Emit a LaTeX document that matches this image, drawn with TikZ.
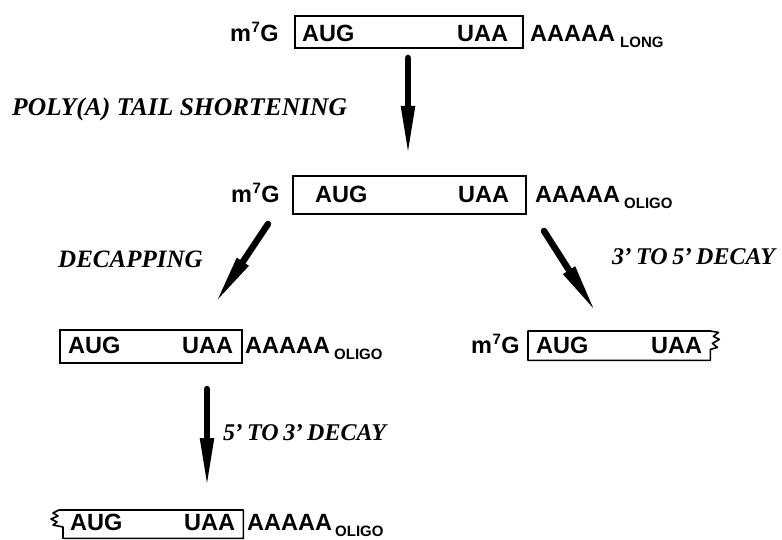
\documentclass[tikz,border=0pt]{standalone}
\usepackage{fontspec}
\setmainfont{Liberation Serif}
\setsansfont{Liberation Sans}
\usetikzlibrary{arrows.meta}

% fonts for sequences, poly(A) tail subscripts and step labels
\newcommand\seqfont{\sffamily\bfseries\fontsize{23.5}{23.5}\selectfont}
\newcommand\tailfont{\sffamily\bfseries\fontsize{15}{15}\selectfont}
\newcommand\stepfont{\rmfamily\bfseries\itshape\fontsize{25.5}{25.5}\selectfont}
\newcommand\decayfont{\rmfamily\bfseries\itshape\fontsize{24}{24}\selectfont}
\newcommand\capmark{m\kern0.5pt\raisebox{9pt}{\fontsize{15}{15}\selectfont 7}\kern0.5pt G}
% slightly tightened prime used in the decay labels
\newcommand\pr{\kern-0.5pt'}

\tikzset{
  txt/.style={inner sep=0pt, anchor=base west, font=\seqfont},
  tail/.style={inner sep=0pt, anchor=base west, font=\tailfont},
  steplabel/.style={inner sep=0pt, anchor=base west, font=\stepfont},
  decaylabel/.style={inner sep=0pt, anchor=base west, font=\decayfont},
  orf/.style={draw, line width=1.6pt, inner sep=0pt, anchor=north west},
  orfhidden/.style={inner sep=0pt, anchor=north west},
  edge/.style={line width=1.6pt, line join=round},
  flow/.style={line width=6.5pt, line cap=round, -{Triangle[length=52pt,width=12.5pt]}}
}

\begin{document}
\begin{tikzpicture}[x=1pt, y=-1pt]
\useasboundingbox (0,0) rectangle (782,540);

% ---- full-length mRNA with long poly(A) tail
\node[orf, minimum width=228pt, minimum height=32pt] (b1) at (294,15) {};
\node[txt] (cap1) at (230,42) {\capmark};
\node[txt] (aug1) at (302,42) {AUG};
\node[txt] (uaa1) at (457,42) {UAA};
\node[txt] (pa1) at (530,42) {AAAAA};
\node[tail] (sub1) at (620,48) {LONG};

% ---- mRNA with oligo(A) tail
\node[orf, minimum width=233pt, minimum height=38pt] (b2) at (292,175) {};
\node[txt] (cap2) at (231,203) {\capmark};
\node[txt] (aug2) at (315,203) {AUG};
\node[txt] (uaa2) at (458,203) {UAA};
\node[txt] (pa2) at (535,203) {AAAAA};
\node[tail] (sub2) at (624,209) {OLIGO};

% ---- decapped mRNA
\node[orf, minimum width=182pt, minimum height=33pt] (b3) at (59,329) {};
\node[txt] (aug3) at (68,353) {AUG};
\node[txt] (uaa3) at (182,353) {UAA};
\node[txt] (pa3) at (245,353) {AAAAA};
\node[tail] (sub3) at (334,359) {OLIGO};

% ---- 3' to 5' degradation intermediate
\node[orfhidden, minimum width=182pt, minimum height=29pt] (b4) at (528,331) {};
\draw[edge] (b4.south east) -- ++(0,-11) -- ++(7,-2) -- ++(-5,-4) -- ++(7,-4)
  -- ++(-6,-3) -- ++(5,-4) -- (b4.north east) -- (b4.north west)
  -- (b4.south west) -- cycle;
\node[txt] (cap4) at (471,353) {\capmark};
\node[txt] (aug4) at (536,353) {AUG};
\node[txt] (uaa4) at (651,353) {UAA};

% ---- 5' to 3' degradation intermediate
\node[orfhidden, minimum width=180pt, minimum height=28pt] (b5) at (63,510) {};
\draw[edge] (b5.north west) -- ++(-4,0) -- ++(-6,3) -- ++(5,3) -- ++(-7,3)
  -- ++(6,3) -- ++(-4,3) -- ++(10,2) -- (b5.south west) -- (b5.south east)
  -- (b5.north east) -- cycle;
\node[txt] (aug5) at (70,530) {AUG};
\node[txt] (uaa5) at (184,530) {UAA};
\node[txt] (pa5) at (247,530) {AAAAA};
\node[tail] (sub5) at (335,536) {OLIGO};

% ---- step labels
\node[steplabel] (l1) at (12,116) {POLY(A) TAIL SHORTENING};
\node[steplabel, font=\rmfamily\bfseries\itshape\fontsize{25}{25}\selectfont]
  (l2) at (58,268) {DECAPPING};
\node[decaylabel] (l3) at (612,265) {\spaceskip=4.5pt 3\pr{} TO 5\pr{} DECAY};
\node[decaylabel] (l4) at (223,440) {\spaceskip=4.5pt 5\pr{} TO 3\pr{} DECAY};

% ---- arrow end points
\coordinate (a1s) at (408,58);
\coordinate (a1e) at (408,158);
\coordinate (a2s) at (268,224);
\coordinate (a2e) at (214,305);
\coordinate (a3s) at (544,231);
\coordinate (a3e) at (597,314);
\coordinate (a4s) at (207,389);
\coordinate (a4e) at (207,490);

\draw[flow] (a1s) -- (a1e);
\draw[flow] (a2s) -- (a2e);
\draw[flow] (a3s) -- (a3e);
\draw[flow] (a4s) -- (a4e);
\end{tikzpicture}
\end{document}
